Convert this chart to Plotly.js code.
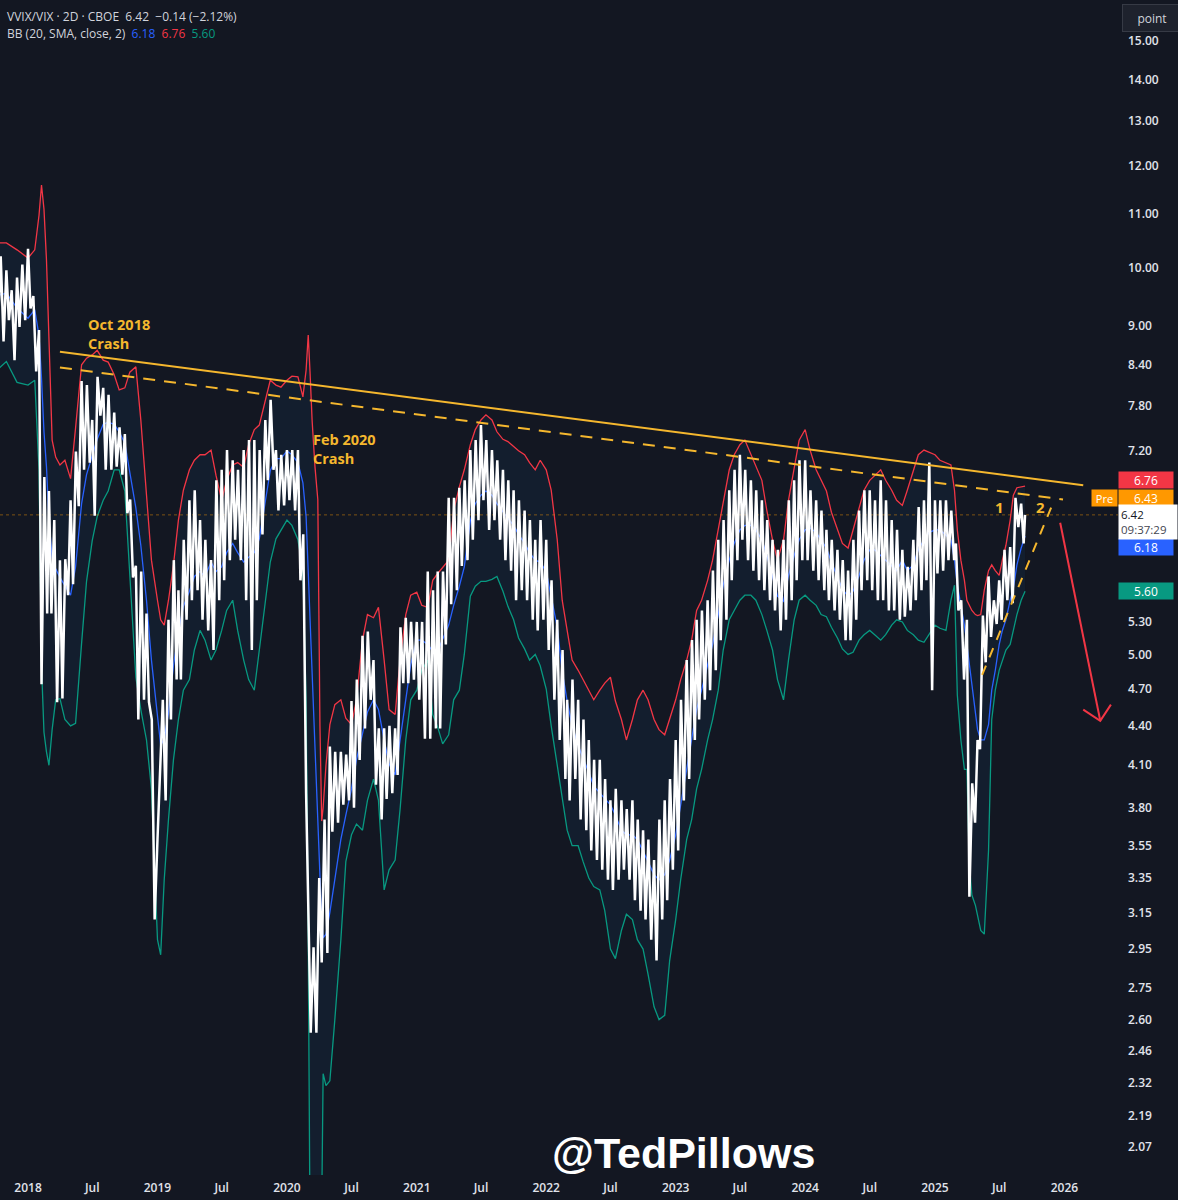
<!DOCTYPE html>
<html>
<head>
<meta charset="utf-8">
<script src="https://cdn.plot.ly/plotly-3.0.1.min.js"></script>
<style>
  html, body { margin: 0; padding: 0; background: #131722; }
  #chart { width: 1178px; height: 1200px; }
</style>
</head>
<body>
<div id="chart"></div>
<script>
// ---------------- DATA ----------------
const symbolHeader = 'VVIX/VIX · 2D · CBOE&nbsp;&nbsp;6.42&nbsp;&nbsp;−0.14 (−2.12%)';
const bbHeader = 'BB (20, SMA, close, 2)';
const lastPrice = 6.42;
const prePrice = 6.43;
const lastBasis = 6.18;
const lastUpper = 6.76;
const lastLower = 5.60;
const countdown = '09:37:29';

const bbDates = [
'2017-10-01','2017-11-01','2017-12-01','2018-01-01','2018-01-20','2018-02-01','2018-02-08','2018-02-15','2018-02-22',
'2018-03-01','2018-03-10','2018-03-20','2018-04-01','2018-04-15','2018-05-01','2018-05-15','2018-06-01','2018-06-15',
'2018-07-01','2018-07-15','2018-08-01','2018-08-15','2018-09-01','2018-09-15','2018-10-01','2018-10-15','2018-11-01',
'2018-11-15','2018-12-01','2018-12-15','2019-01-01','2019-01-10','2019-01-20','2019-02-01','2019-02-15','2019-03-01',
'2019-03-15','2019-04-01','2019-04-15','2019-05-01','2019-05-15','2019-06-01','2019-06-15','2019-07-01','2019-07-15',
'2019-08-01','2019-08-15','2019-09-01','2019-09-15','2019-10-01','2019-10-15','2019-11-01','2019-11-15','2019-12-01',
'2019-12-15','2020-01-01','2020-01-15','2020-02-01','2020-02-15','2020-02-24','2020-03-01','2020-03-06','2020-03-12',
'2020-03-20','2020-03-28','2020-04-03','2020-04-08','2020-04-12','2020-04-20','2020-05-01','2020-05-15','2020-06-01',
'2020-06-15','2020-07-01','2020-07-15','2020-08-01','2020-08-15','2020-09-01','2020-09-15','2020-10-01','2020-10-15',
'2020-11-01','2020-11-15','2020-12-01','2020-12-15','2021-01-01','2021-01-15','2021-02-01','2021-02-15','2021-03-01',
'2021-03-15','2021-04-01','2021-04-15','2021-05-01','2021-05-15','2021-06-01','2021-06-15','2021-07-01','2021-07-15',
'2021-08-01','2021-08-15','2021-09-01','2021-09-15','2021-10-01','2021-10-15','2021-11-01','2021-11-15','2021-12-01',
'2021-12-15','2022-01-01','2022-01-15','2022-02-01','2022-02-15','2022-03-01','2022-03-15','2022-04-01','2022-04-15',
'2022-05-01','2022-05-15','2022-06-01','2022-06-15','2022-07-01','2022-07-15','2022-08-01','2022-08-15','2022-09-01',
'2022-09-15','2022-10-01','2022-10-15','2022-11-01','2022-11-15','2022-12-01','2022-12-15','2023-01-01','2023-01-15',
'2023-02-01','2023-02-15','2023-03-01','2023-03-15','2023-04-01','2023-04-15','2023-05-01','2023-05-15','2023-06-01',
'2023-06-15','2023-07-01','2023-07-15','2023-08-01','2023-08-15','2023-09-01','2023-09-15','2023-10-01','2023-10-15',
'2023-11-01','2023-11-15','2023-12-01','2023-12-15','2024-01-01','2024-01-15','2024-02-01','2024-02-15','2024-03-01',
'2024-03-15','2024-04-01','2024-04-15','2024-05-01','2024-05-15','2024-06-01','2024-06-15','2024-07-01','2024-07-15',
'2024-08-01','2024-08-15','2024-09-01','2024-09-15','2024-10-01','2024-10-15','2024-11-01','2024-11-15','2024-12-01',
'2024-12-15','2025-01-01','2025-01-15','2025-02-01','2025-02-15','2025-02-25','2025-03-05','2025-03-15','2025-03-25',
'2025-04-01','2025-04-08','2025-04-15','2025-04-25','2025-05-01','2025-05-10','2025-05-20','2025-06-01','2025-06-10',
'2025-06-20','2025-07-01','2025-07-10','2025-07-20','2025-08-01','2025-08-10','2025-08-20','2025-09-01','2025-09-12'
];
const bbUpper = [
10.45,10.45,10.32,10.17,10.32,10.98,11.59,11.10,10.14,
8.62,7.34,7.12,7.02,7.08,6.85,7.50,8.40,8.50,
8.55,8.62,8.47,8.44,8.25,8.03,8.06,8.29,8.37,
7.61,6.59,5.92,5.51,5.32,5.27,5.51,5.87,6.36,
6.71,6.96,7.08,7.15,7.15,7.21,6.89,6.59,6.83,
7.02,7.05,6.99,7.28,7.48,7.54,7.89,8.17,8.10,
8.07,8.17,8.23,8.22,7.93,8.32,8.86,8.30,7.60,
7.00,6.60,4.40,3.71,3.80,4.10,4.41,4.57,4.61,
4.46,4.41,4.61,5.13,5.37,5.34,5.44,4.95,4.53,
4.49,4.95,5.37,5.56,5.59,5.46,5.44,5.71,5.78,
5.84,5.92,6.47,6.75,6.96,7.28,7.48,7.61,7.68,
7.61,7.45,7.35,7.32,7.25,7.20,7.15,7.05,6.96,
7.08,6.96,6.71,6.14,5.51,5.22,4.95,4.86,4.78,
4.69,4.61,4.69,4.75,4.80,4.60,4.45,4.29,4.45,
4.61,4.69,4.61,4.45,4.37,4.33,4.45,4.61,4.78,
4.95,5.13,5.41,5.51,5.71,5.92,6.25,6.59,6.96,
7.15,7.28,7.34,7.15,7.02,6.83,6.47,6.14,5.92,
6.14,6.59,6.96,7.34,7.48,7.21,6.96,6.83,6.70,
6.45,6.25,6.10,6.05,6.25,6.47,6.71,6.83,6.89,
6.96,6.83,6.71,6.59,6.53,6.71,6.96,7.15,7.21,
7.18,7.15,7.08,7.05,7.02,6.71,6.25,5.92,5.71,
5.51,5.46,5.41,5.37,5.36,5.37,5.61,5.81,5.87,
5.81,5.76,5.92,6.08,6.36,6.65,6.74,6.75,6.76
];
const bbBasis = [
9.50,9.55,9.30,9.13,9.27,8.85,8.20,7.45,7.00,
6.36,5.95,5.83,5.74,5.66,5.56,5.85,6.55,6.90,
7.15,7.35,7.55,7.58,7.55,7.45,7.30,6.95,6.50,
6.08,5.51,4.95,4.50,4.25,4.30,4.50,4.90,5.20,
5.45,5.60,5.75,5.80,5.75,5.90,5.80,5.85,6.00,
6.10,6.00,5.90,5.95,6.00,6.15,6.55,6.95,7.10,
7.10,7.20,7.15,7.05,6.80,6.40,5.80,5.30,4.90,
4.20,3.70,3.35,3.10,3.01,3.03,3.15,3.35,3.59,
3.75,3.93,4.14,4.33,4.51,4.61,4.53,4.29,4.11,
4.03,4.29,4.65,4.91,5.13,5.13,5.09,5.03,5.03,
5.13,5.27,5.46,5.65,5.85,6.35,6.55,6.65,6.70,
6.65,6.55,6.45,6.38,6.30,6.20,6.10,6.00,5.92,
5.90,5.80,5.55,5.25,4.85,4.60,4.40,4.25,4.15,
4.05,3.95,3.90,3.86,3.82,3.75,3.65,3.62,3.62,
3.59,3.52,3.45,3.37,3.34,3.37,3.46,3.62,3.82,
4.07,4.29,4.53,4.69,4.91,5.09,5.37,5.66,5.92,
6.10,6.25,6.30,6.30,6.25,6.14,5.97,5.75,5.55,
5.50,5.76,5.97,6.14,6.25,6.27,6.22,6.14,6.05,
5.90,5.75,5.62,5.55,5.60,5.76,5.92,6.03,6.03,
5.97,5.92,5.87,5.81,5.92,5.81,5.87,6.03,6.14,
6.22,6.25,6.25,6.19,6.14,5.92,5.66,5.46,5.27,
5.09,4.91,4.74,4.53,4.37,4.29,4.29,4.41,4.69,
4.86,5.09,5.22,5.32,5.51,5.63,5.87,6.05,6.18
];
const bbLower = [
8.30,8.45,8.14,8.10,8.17,6.96,4.90,4.35,4.20,
4.10,4.37,4.61,4.62,4.45,4.40,4.42,5.10,5.70,
6.13,6.40,6.59,6.70,6.96,6.96,6.70,5.80,4.80,
4.53,4.29,3.93,3.00,2.92,3.34,3.72,4.14,4.45,
4.69,4.78,5.04,5.22,5.13,4.95,5.04,5.22,5.41,
5.51,5.22,4.95,4.78,4.69,5.04,5.51,5.90,6.15,
6.25,6.36,6.30,6.14,5.81,4.60,3.00,1.80,1.80,
1.80,1.80,1.80,1.85,2.36,2.31,2.33,2.60,3.00,
3.45,3.62,3.69,3.65,3.85,4.00,3.85,3.28,3.40,
3.46,3.79,4.29,4.61,4.69,4.86,4.95,4.49,4.39,
4.26,4.33,4.61,4.69,5.00,5.55,5.65,5.70,5.70,
5.72,5.75,5.60,5.45,5.32,5.15,5.05,4.95,5.00,
4.90,4.70,4.40,4.10,3.90,3.65,3.55,3.55,3.45,
3.35,3.30,3.28,3.16,2.95,2.90,3.05,3.14,3.11,
3.00,2.95,2.82,2.66,2.60,2.62,2.89,3.11,3.34,
3.59,3.72,3.93,4.07,4.29,4.45,4.69,5.04,5.32,
5.41,5.51,5.56,5.56,5.51,5.37,5.22,5.04,4.78,
4.61,4.95,5.32,5.51,5.56,5.51,5.46,5.37,5.35,
5.25,5.15,5.05,5.00,5.02,5.13,5.18,5.22,5.18,
5.13,5.18,5.27,5.32,5.30,5.22,5.18,5.13,5.11,
5.18,5.27,5.24,5.22,5.51,5.66,4.65,4.29,4.07,
4.07,3.43,3.25,3.19,3.14,3.05,3.03,3.52,4.45,
4.69,4.86,4.95,5.04,5.09,5.22,5.37,5.51,5.60
];

const priceDates = [
'2017-10-01','2017-10-08','2017-10-16','2017-10-24','2017-11-01','2017-11-08','2017-11-16','2017-11-24','2017-12-01','2017-12-08','2017-12-16','2017-12-24',
'2018-01-01','2018-01-08','2018-01-16','2018-01-24','2018-02-01','2018-02-08','2018-02-16','2018-02-24','2018-03-01','2018-03-08','2018-03-16','2018-03-24',
'2018-04-01','2018-04-08','2018-04-16','2018-04-24','2018-05-01','2018-05-08','2018-05-16','2018-05-24','2018-06-01','2018-06-08','2018-06-16','2018-06-24',
'2018-07-01','2018-07-08','2018-07-16','2018-07-24','2018-08-01','2018-08-08','2018-08-16','2018-08-24','2018-09-01','2018-09-08','2018-09-16','2018-09-24',
'2018-10-01','2018-10-08','2018-10-16','2018-10-24','2018-11-01','2018-11-08','2018-11-16','2018-11-24','2018-12-01','2018-12-08','2018-12-16','2018-12-24',
'2019-01-01','2019-01-08','2019-01-16','2019-01-24','2019-02-01','2019-02-08','2019-02-16','2019-02-24','2019-03-01','2019-03-08','2019-03-16','2019-03-24',
'2019-04-01','2019-04-08','2019-04-16','2019-04-24','2019-05-01','2019-05-08','2019-05-16','2019-05-24','2019-06-01','2019-06-08','2019-06-16','2019-06-24',
'2019-07-01','2019-07-08','2019-07-16','2019-07-24','2019-08-01','2019-08-08','2019-08-16','2019-08-24','2019-09-01','2019-09-08','2019-09-16','2019-09-24',
'2019-10-01','2019-10-08','2019-10-16','2019-10-24','2019-11-01','2019-11-08','2019-11-16','2019-11-24','2019-12-01','2019-12-08','2019-12-16','2019-12-24',
'2020-01-01','2020-01-08','2020-01-16','2020-01-24','2020-02-01','2020-02-08','2020-02-16','2020-02-24','2020-03-01','2020-03-08','2020-03-16','2020-03-24',
'2020-04-01','2020-04-08','2020-04-16','2020-04-24','2020-05-01','2020-05-08','2020-05-16','2020-05-24','2020-06-01','2020-06-08','2020-06-16','2020-06-24',
'2020-07-01','2020-07-08','2020-07-16','2020-07-24','2020-08-01','2020-08-08','2020-08-16','2020-08-24','2020-09-01','2020-09-08','2020-09-16','2020-09-24',
'2020-10-01','2020-10-08','2020-10-16','2020-10-24','2020-11-01','2020-11-08','2020-11-16','2020-11-24','2020-12-01','2020-12-08','2020-12-16','2020-12-24',
'2021-01-01','2021-01-08','2021-01-16','2021-01-24','2021-02-01','2021-02-08','2021-02-16','2021-02-24','2021-03-01','2021-03-08','2021-03-16','2021-03-24',
'2021-04-01','2021-04-08','2021-04-16','2021-04-24','2021-05-01','2021-05-08','2021-05-16','2021-05-24','2021-06-01','2021-06-08','2021-06-16','2021-06-24',
'2021-07-01','2021-07-08','2021-07-16','2021-07-24','2021-08-01','2021-08-08','2021-08-16','2021-08-24','2021-09-01','2021-09-08','2021-09-16','2021-09-24',
'2021-10-01','2021-10-08','2021-10-16','2021-10-24','2021-11-01','2021-11-08','2021-11-16','2021-11-24','2021-12-01','2021-12-08','2021-12-16','2021-12-24',
'2022-01-01','2022-01-08','2022-01-16','2022-01-24','2022-02-01','2022-02-08','2022-02-16','2022-02-24','2022-03-01','2022-03-08','2022-03-16','2022-03-24',
'2022-04-01','2022-04-08','2022-04-16','2022-04-24','2022-05-01','2022-05-08','2022-05-16','2022-05-24','2022-06-01','2022-06-08','2022-06-16','2022-06-24',
'2022-07-01','2022-07-08','2022-07-16','2022-07-24','2022-08-01','2022-08-08','2022-08-16','2022-08-24','2022-09-01','2022-09-08','2022-09-16','2022-09-24',
'2022-10-01','2022-10-08','2022-10-16','2022-10-24','2022-11-01','2022-11-08','2022-11-16','2022-11-24','2022-12-01','2022-12-08','2022-12-16','2022-12-24',
'2023-01-01','2023-01-08','2023-01-16','2023-01-24','2023-02-01','2023-02-08','2023-02-16','2023-02-24','2023-03-01','2023-03-08','2023-03-16','2023-03-24',
'2023-04-01','2023-04-08','2023-04-16','2023-04-24','2023-05-01','2023-05-08','2023-05-16','2023-05-24','2023-06-01','2023-06-08','2023-06-16','2023-06-24',
'2023-07-01','2023-07-08','2023-07-16','2023-07-24','2023-08-01','2023-08-08','2023-08-16','2023-08-24','2023-09-01','2023-09-08','2023-09-16','2023-09-24',
'2023-10-01','2023-10-08','2023-10-16','2023-10-24','2023-11-01','2023-11-08','2023-11-16','2023-11-24','2023-12-01','2023-12-08','2023-12-16','2023-12-24',
'2024-01-01','2024-01-08','2024-01-16','2024-01-24','2024-02-01','2024-02-08','2024-02-16','2024-02-24','2024-03-01','2024-03-08','2024-03-16','2024-03-24',
'2024-04-01','2024-04-08','2024-04-16','2024-04-24','2024-05-01','2024-05-08','2024-05-16','2024-05-24','2024-06-01','2024-06-08','2024-06-16','2024-06-24',
'2024-07-01','2024-07-08','2024-07-16','2024-07-24','2024-08-01','2024-08-08','2024-08-16','2024-08-24','2024-09-01','2024-09-08','2024-09-16','2024-09-24',
'2024-10-01','2024-10-08','2024-10-16','2024-10-24','2024-11-01','2024-11-08','2024-11-16','2024-11-24','2024-12-01','2024-12-08','2024-12-16','2024-12-24',
'2025-01-01','2025-01-08','2025-01-16','2025-01-24','2025-02-01','2025-02-08','2025-02-16','2025-02-24','2025-03-01','2025-03-08','2025-03-16','2025-03-24',
'2025-04-01','2025-04-08','2025-04-16','2025-04-24','2025-05-01','2025-05-08','2025-05-16','2025-05-24','2025-06-01','2025-06-08','2025-06-16','2025-06-24',
'2025-07-01','2025-07-08','2025-07-16','2025-07-24','2025-08-01','2025-08-08','2025-08-16','2025-08-24','2025-09-01','2025-09-08','2025-09-12'
];
const priceClose = [
9.95,8.94,10.20,8.76, 9.95,9.10,9.60,8.47, 9.82,8.99,10.05,9.10,
10.34,9.29,9.50,8.30, 8.94,4.74,6.87,5.38, 6.70,5.38,6.36,4.59,
5.92,4.62,5.93,5.56, 6.59,5.67,7.19,6.52, 8.16,6.96,8.10,7.05,
7.61,6.41,8.22,7.67, 8.06,6.96,7.96,6.96, 7.71,7.00,7.51,6.90,
7.42,6.44,6.60,5.74, 5.86,4.45,5.80,4.61, 5.38,4.59,4.45,3.11,
3.59,4.00,4.61,3.85, 5.32,4.45,5.92,4.78, 5.61,4.78,6.14,5.32,
6.59,5.51,6.71,5.61, 6.36,5.32,6.14,5.22, 5.92,5.04,6.83,5.51,
6.96,5.71,7.21,5.92, 7.08,6.14,6.96,5.92, 7.21,5.51,7.34,5.04,
7.34,5.51,7.21,6.20, 7.61,6.83,7.89,6.96, 7.21,6.47,7.15,6.53,
7.21,6.59,7.21,6.47, 7.21,5.71,6.20,3.90, 3.16,2.54,2.96,2.54,
3.35,2.88,3.72,2.93, 4.24,3.64,4.20,3.70, 4.20,3.82,4.18,3.85,
4.60,3.80,4.78,4.14, 5.17,4.38,5.21,4.61, 4.95,3.96,4.38,3.72,
4.38,3.86,4.40,3.90, 4.38,4.03,5.25,4.75, 5.34,4.75,5.30,4.78,
5.30,4.61,5.30,4.30, 5.80,4.30,5.61,4.38, 5.80,4.38,5.80,5.09,
6.62,5.47,6.62,5.61, 6.74,5.86,6.83,5.92, 7.21,6.14,7.34,6.36,
7.54,6.59,7.34,6.25, 7.21,6.36,7.08,6.14, 6.96,5.92,6.83,5.81,
6.71,5.51,6.59,5.61, 6.47,5.51,6.36,5.32, 6.14,5.22,6.36,5.32,
6.14,5.04,5.71,4.61, 5.32,4.29,5.04,4.00, 4.61,3.85,4.78,4.00,
4.61,3.72,4.45,3.65, 4.29,3.52,4.14,3.46, 4.14,3.40,4.00,3.34,
3.85,3.28,3.93,3.34, 3.85,3.40,3.79,3.34, 3.85,3.22,3.72,3.16,
3.65,3.11,3.59,3.00, 3.46,2.89,3.72,3.11, 3.85,3.22,4.00,3.40,
4.29,3.52,4.61,3.85, 4.95,4.00,5.13,4.29, 5.32,4.45,5.41,4.61,
5.51,4.69,5.81,4.86, 6.14,5.13,6.36,5.32, 6.71,5.71,6.96,5.92,
7.15,6.14,6.96,5.92, 6.83,5.81,6.71,5.71, 6.59,5.61,6.36,5.51,
6.14,5.41,6.03,5.22, 6.14,5.32,6.59,5.51, 6.83,5.71,7.08,5.92,
7.08,5.92,6.71,5.81, 6.59,5.71,6.47,5.61, 6.25,5.51,6.14,5.41,
6.03,5.32,5.92,5.13, 5.81,5.13,6.14,5.32, 6.47,5.61,6.71,5.71,
6.71,5.61,6.59,5.51, 6.83,5.51,6.59,5.41, 6.36,5.41,6.25,5.32,
6.03,5.35,5.85,5.41, 6.14,5.51,6.51,5.61, 6.59,5.71,7.05,4.69,
6.59,5.78,6.59,5.81, 6.59,5.92,6.47,5.92, 6.10,5.41,5.51,4.78,
5.32,3.24,3.97,3.70, 4.29,4.22,5.36,4.93, 5.75,5.16,5.51,5.28,
5.71,5.32,6.03,5.51, 6.06,5.48,6.62,6.28, 6.55,6.10,6.42
];

// Drawn annotations (trend lines, projection, arrow), in data coordinates
const resistanceDates = ['2018-04-01', '2026-02-23'];
const resistanceValues = [8.60, 6.77];
const dashedResDates = ['2018-04-01', '2025-12-28'];
const dashedResValues = [8.36, 6.60];
const risingDates = ['2025-05-14', '2025-12-03'];
const risingValues = [4.82, 6.59];
const arrowShaftDates = ['2025-12-20', '2026-04-12'];
const arrowShaftValues = [6.33, 4.44];
const arrowHeadDates = ['2026-02-23', '2026-04-12', '2026-05-12'];
const arrowHeadValues = [4.53, 4.44, 4.57];

// Text labels
const labelTexts = ['Oct 2018<br>Crash', 'Feb 2020<br>Crash', '1', '2'];
const labelDates = ['2018-06-13', '2020-03-08', '2025-07-01', '2025-10-25'];
const labelValues = [8.88, 7.23, 6.51, 6.51];

// Axis ticks (labels hidden behind the price tags are left out)
const xTickDates = ['2018-01-01','2018-07-01','2019-01-01','2019-07-01','2020-01-01','2020-07-01','2021-01-01','2021-07-01',
  '2022-01-01','2022-07-01','2023-01-01','2023-07-01','2024-01-01','2024-07-01','2025-01-01','2025-07-01','2026-01-01'];
const xTickText = ['2018','Jul','2019','Jul','2020','Jul','2021','Jul','2022','Jul','2023','Jul','2024','Jul','2025','Jul','2026'];
const yTickVals = [15,14,13,12,11,10,9,8.4,7.8,7.2,5.3,5.0,4.7,4.4,4.1,3.8,3.55,3.35,3.15,2.95,2.75,2.6,2.46,2.32,2.19,2.07];
const yTickText = yTickVals.map(v => v.toFixed(2));

// ---------------- STYLE ----------------
const BG = '#131722';
const GOLD = '#f5b72e';
const RED = '#f23645';
const BLUE = '#2962ff';
const GREEN = '#089981';
const FONT = 'Open Sans, Noto Sans, sans-serif';
const XRANGE = ['2017-10-14', '2026-06-01'];

const traces = [
  { x: bbDates, y: bbUpper, mode: 'lines', line: { color: RED, width: 1.3 }, hoverinfo: 'skip' },
  { x: bbDates, y: bbLower, mode: 'lines', line: { color: GREEN, width: 1.3 }, fill: 'tonexty',
    fillcolor: 'rgba(33,150,243,0.06)', hoverinfo: 'skip' },
  { x: bbDates, y: bbBasis, mode: 'lines', line: { color: BLUE, width: 1.3 }, hoverinfo: 'skip' },
  { x: XRANGE, y: [lastPrice, lastPrice], mode: 'lines', line: { color: 'rgba(255,152,0,0.45)', width: 1, dash: 'dot' }, hoverinfo: 'skip' },
  { x: priceDates, y: priceClose, mode: 'lines', line: { color: '#ffffff', width: 2.5 }, hoverinfo: 'skip' },
  { x: resistanceDates, y: resistanceValues, mode: 'lines', line: { color: GOLD, width: 2 }, hoverinfo: 'skip' },
  { x: dashedResDates, y: dashedResValues, mode: 'lines', line: { color: GOLD, width: 2, dash: '12px,9px' }, hoverinfo: 'skip' },
  { x: risingDates, y: risingValues, mode: 'lines', line: { color: GOLD, width: 2, dash: '10px,9px' }, hoverinfo: 'skip' },
  { x: arrowShaftDates, y: arrowShaftValues, mode: 'lines', line: { color: RED, width: 2 }, hoverinfo: 'skip' },
  { x: arrowHeadDates, y: arrowHeadValues, mode: 'lines', line: { color: RED, width: 2 }, hoverinfo: 'skip' }
];

const annotations = [];
labelTexts.forEach((t, i) => {
  const single = (t === '1' || t === '2');
  annotations.push({
    x: labelDates[i], y: Math.log10(labelValues[i]), xref: 'x', yref: 'y',
    text: '<b>' + t + '</b>', showarrow: false, align: 'left',
    xanchor: single ? 'center' : 'left', yanchor: 'middle',
    font: { family: FONT, size: single ? 15 : 14.5, color: GOLD }
  });
});
annotations.push({
  xref: 'paper', yref: 'paper', x: 0, y: 1, xshift: 5, yshift: -6, xanchor: 'left', yanchor: 'top',
  text: symbolHeader, showarrow: false, font: { family: FONT, size: 12, color: '#d1d4dc' }
});
annotations.push({
  xref: 'paper', yref: 'paper', x: 0, y: 1, xshift: 5, yshift: -23, xanchor: 'left', yanchor: 'top',
  text: bbHeader + '&nbsp;&nbsp;<span style="color:' + BLUE + '">' + lastBasis.toFixed(2) + '</span>&nbsp;&nbsp;' +
        '<span style="color:' + RED + '">' + lastUpper.toFixed(2) + '</span>&nbsp;&nbsp;' +
        '<span style="color:' + GREEN + '">' + lastLower.toFixed(2) + '</span>',
  showarrow: false, font: { family: FONT, size: 12, color: '#d1d4dc' }
});
annotations.push({
  xref: 'paper', yref: 'paper', x: 1, y: 1, xanchor: 'left', yanchor: 'top', xshift: 4, yshift: -4,
  text: 'point', showarrow: false, width: 56, height: 24, bgcolor: '#1e222d', bordercolor: '#363a45', borderwidth: 1,
  font: { family: FONT, size: 12, color: '#d1d4dc' }
});
function tag(val, text, bg, fg, shift, w, h) {
  return {
    xref: 'paper', yref: 'y', x: 1, y: Math.log10(val), xanchor: 'left', yanchor: 'middle', yshift: shift,
    text: text, showarrow: false, width: w, height: h, bgcolor: bg, borderpad: 0, align: 'center',
    font: { family: FONT, size: 12, color: fg }
  };
}
annotations.push(tag(lastUpper, lastUpper.toFixed(2), RED, '#ffffff', 6, 54, 16));
annotations.push(tag(prePrice, prePrice.toFixed(2), '#ff9800', '#ffffff', 16, 54, 16));
annotations.push({
  xref: 'paper', yref: 'y', x: 1, y: Math.log10(prePrice), xanchor: 'right', yanchor: 'middle', yshift: 16,
  text: 'Pre', showarrow: false, width: 25, height: 16, bgcolor: '#ff9800', borderpad: 0,
  font: { family: FONT, size: 11, color: '#ffffff' }
});
annotations.push(tag(lastBasis, lastBasis.toFixed(2), BLUE, '#ffffff', -11, 54, 16));
annotations.push(tag(lastLower, lastLower.toFixed(2), GREEN, '#ffffff', 0, 54, 16));
annotations.push({
  xref: 'paper', yref: 'y', x: 1, y: Math.log10(lastPrice), xanchor: 'left', yanchor: 'middle', yshift: -7,
  text: lastPrice.toFixed(2) + '<br><span style="color:#434651">' + countdown + '</span>', showarrow: false,
  width: 54, height: 30, bgcolor: '#ffffff', borderpad: 2, align: 'left',
  font: { family: FONT, size: 11.5, color: '#131722' }
});
annotations.push({
  xref: 'paper', yref: 'paper', x: 0.611, y: 0.0187, xanchor: 'center', yanchor: 'middle',
  text: '<b>@TedPillows</b>', showarrow: false,
  font: { family: 'Liberation Sans, Arial, sans-serif', size: 43, color: '#ffffff' }
});

const layout = {
  width: 1178, height: 1200,
  paper_bgcolor: BG, plot_bgcolor: BG,
  margin: { l: 0, r: 60, t: 0, b: 25 },
  showlegend: false,
  hovermode: false,
  xaxis: {
    type: 'date', range: XRANGE, tickmode: 'array', tickvals: xTickDates, ticktext: xTickText,
    showgrid: false, zeroline: false, showline: false, ticks: '', ticklabelstandoff: 4,
    tickfont: { family: FONT, size: 12, color: '#e0e3eb', weight: 600 }, fixedrange: true
  },
  yaxis: {
    type: 'log', side: 'right', range: [0.2941, 1.2080], tickmode: 'array', tickvals: yTickVals, ticktext: yTickText,
    showgrid: false, zeroline: false, showline: false, ticks: '', ticklabelstandoff: 9,
    tickfont: { family: FONT, size: 12, color: '#e0e3eb', weight: 600 }, fixedrange: true
  },
  annotations: annotations
};

Plotly.newPlot('chart', traces, layout, { displayModeBar: false, staticPlot: true });
</script>
</body>
</html>
